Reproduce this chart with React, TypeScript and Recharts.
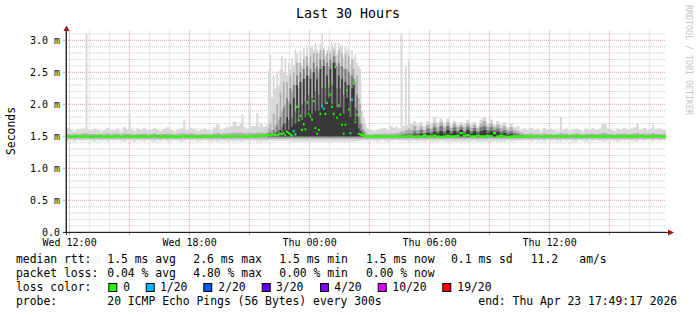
import React from 'react';
import { ComposedChart, Area, XAxis, YAxis, CartesianGrid } from 'recharts';

const FONT = '"DejaVu Sans Mono", monospace';

// time axis: minutes since Wed 00:00; graph covers last 30 hours ending Thu 17:49:17
const startT = 709.3;
const endT = 2509.3;
const timeLabelTicks = [720, 1080, 1440, 1800, 2160];
const timeLabels = ['Wed 12:00', 'Wed 18:00', 'Thu 00:00', 'Thu 06:00', 'Thu 12:00'];
const yTicks = [0, 0.5, 1, 1.5, 2, 2.5, 3];
const yTickLabels = ['0.0', '0.5 m', '1.0 m', '1.5 m', '2.0 m', '2.5 m', '3.0 m'];

// lower edges of the inner smoke bands (ms)
const innerFloors = [1.46, 1.485, 1.5];

// rows: [t, min, max, band1 top, band2 top, band3 top, median, loss(0/1)]
type Row = [number, number, number, number, number | null, number | null, number, number];

const wedAfternoon: Row[] = [
  [709, 1.43, 1.63, 1.535, null, null, 1.5, 0],
  [720, 1.44, 1.6, 1.53, null, null, 1.495, 0],
  [730, 1.42, 1.58, 1.535, null, null, 1.5, 0],
  [740, 1.44, 1.61, 1.53, null, null, 1.505, 0],
  [750, 1.43, 1.6, 1.535, null, null, 1.5, 0],
  [760, 1.44, 1.62, 1.545, null, null, 1.495, 0],
  [768, 1.43, 3.1, 1.545, null, null, 1.5, 0],
  [774, 1.44, 1.6, 1.53, null, null, 1.5, 0],
  [780, 1.43, 1.59, 1.535, null, null, 1.49, 0],
  [790, 1.42, 1.62, 1.535, null, null, 1.5, 0],
  [800, 1.44, 1.6, 1.53, null, null, 1.5, 0],
  [810, 1.43, 1.58, 1.535, null, null, 1.505, 0],
  [820, 1.44, 1.6, 1.53, null, null, 1.495, 0],
  [830, 1.42, 1.63, 1.545, null, null, 1.5, 0],
  [840, 1.44, 1.59, 1.53, null, null, 1.49, 0],
  [850, 1.43, 1.6, 1.535, null, null, 1.5, 0],
  [860, 1.44, 1.62, 1.535, null, null, 1.5, 0],
  [870, 1.43, 1.58, 1.53, null, null, 1.495, 0],
  [880, 1.42, 1.64, 1.545, null, null, 1.5, 0],
  [890, 1.44, 1.6, 1.535, null, null, 1.505, 0],
  [897, 1.43, 1.86, 1.545, null, null, 1.5, 0],
  [903, 1.44, 1.6, 1.535, null, null, 1.495, 0],
  [910, 1.42, 1.58, 1.53, null, null, 1.5, 0],
  [920, 1.44, 1.62, 1.535, null, null, 1.49, 0],
  [930, 1.43, 1.6, 1.535, null, null, 1.5, 0],
  [940, 1.42, 1.63, 1.545, null, null, 1.5, 0],
  [950, 1.44, 1.59, 1.53, null, null, 1.495, 0],
  [960, 1.43, 1.6, 1.535, null, null, 1.5, 0],
  [970, 1.42, 1.63, 1.545, null, null, 1.505, 0],
  [980, 1.44, 1.6, 1.53, null, null, 1.5, 0],
  [990, 1.43, 1.58, 1.535, null, null, 1.495, 0],
  [1000, 1.44, 1.62, 1.535, null, null, 1.5, 0],
  [1010, 1.42, 1.64, 1.545, null, null, 1.49, 0],
  [1020, 1.43, 1.6, 1.535, null, null, 1.5, 0],
  [1030, 1.44, 1.58, 1.53, null, null, 1.5, 0],
  [1040, 1.43, 1.6, 1.535, null, null, 1.495, 0],
  [1050, 1.42, 1.62, 1.545, null, null, 1.5, 0],
  [1061, 1.43, 1.75, 1.545, null, null, 1.505, 0],
  [1067, 1.44, 1.6, 1.535, null, null, 1.5, 0],
  [1080, 1.43, 1.63, 1.545, null, null, 1.495, 0],
  [1090, 1.44, 1.6, 1.535, null, null, 1.5, 0],
  [1100, 1.42, 1.58, 1.53, null, null, 1.5, 0],
  [1110, 1.43, 1.6, 1.535, null, null, 1.49, 0],
  [1120, 1.44, 1.62, 1.535, null, null, 1.5, 0],
  [1130, 1.43, 1.6, 1.535, null, null, 1.5, 0],
  [1140, 1.42, 1.58, 1.53, null, null, 1.495, 0],
  [1150, 1.43, 1.64, 1.545, null, null, 1.5, 0],
  [1160, 1.42, 1.69, 1.55, null, null, 1.505, 0],
  [1170, 1.44, 1.6, 1.535, null, null, 1.5, 0],
  [1180, 1.43, 1.62, 1.545, null, null, 1.495, 0],
  [1190, 1.42, 1.64, 1.545, null, null, 1.5, 0],
  [1200, 1.43, 1.66, 1.55, null, null, 1.5, 0],
  [1210, 1.42, 1.73, 1.56, null, null, 1.505, 0],
  [1220, 1.43, 1.66, 1.55, null, null, 1.5, 0],
  [1230, 1.42, 1.7, 1.56, null, null, 1.5, 0],
  [1236, 1.42, 1.84, 1.56, null, null, 1.505, 0],
  [1242, 1.43, 1.64, 1.545, null, null, 1.5, 0],
  [1250, 1.43, 1.62, 1.545, null, null, 1.495, 0],
  [1257, 1.42, 2.04, 1.56, null, null, 1.5, 0],
  [1263, 1.43, 1.66, 1.55, null, null, 1.505, 0],
  [1270, 1.43, 1.66, 1.55, null, null, 1.5, 0],
  [1280, 1.42, 1.86, 1.56, null, null, 1.51, 0],
  [1286, 1.43, 1.65, 1.55, null, null, 1.5, 0],
  [1290, 1.42, 1.71, 1.56, null, null, 1.505, 0],
  [1300, 1.43, 1.65, 1.55, null, null, 1.51, 0],
  [1310, 1.42, 1.68, 1.56, null, null, 1.52, 0],
];

const nightStorm: Row[] = [
  [1315, 1.44, 2.53, 1.62, 1.55, null, 1.52, 0],
  [1320, 1.43, 2.77, 1.7, 1.56, null, 1.51, 0],
  [1325, 1.44, 2.1, 1.6, 1.54, null, 1.53, 0],
  [1330, 1.43, 2.45, 1.85, 1.6, null, 1.52, 0],
  [1335, 1.43, 2.25, 1.65, 1.56, null, 1.53, 0],
  [1340, 1.43, 2.5, 2.0, 1.68, 1.56, 1.52, 0],
  [1345, 1.43, 2.3, 1.75, 1.6, null, 1.53, 0],
  [1350, 1.43, 2.55, 2.2, 1.8, 1.6, 1.54, 0],
  [1355, 1.43, 2.75, 1.9, 1.65, 1.56, 1.53, 0],
  [1360, 1.43, 2.5, 2.35, 1.95, 1.7, 1.55, 0],
  [1365, 1.43, 2.72, 2.0, 1.7, 1.58, 1.52, 0],
  [1370, 1.43, 2.45, 2.35, 2.1, 1.8, 1.57, 0],
  [1375, 1.43, 2.65, 2.05, 1.75, 1.6, 1.55, 0],
  [1380, 1.43, 2.55, 2.45, 2.25, 2.0, 1.53, 0],
  [1385, 1.42, 2.72, 2.2, 1.8, 1.65, 1.51, 0],
  [1390, 1.42, 2.6, 2.5, 2.3, 2.1, 1.58, 1],
  [1395, 1.42, 2.85, 2.3, 1.9, 1.7, 1.53, 1],
  [1400, 1.42, 2.8, 2.65, 2.45, 2.3, 1.96, 0],
  [1405, 1.42, 2.65, 2.25, 1.95, 1.75, 1.75, 0],
  [1410, 1.42, 2.85, 2.65, 2.5, 2.35, 1.82, 0],
  [1415, 1.42, 2.6, 2.35, 2.0, 1.75, 1.6, 0],
  [1420, 1.42, 2.88, 2.7, 2.55, 2.4, 1.69, 0],
  [1425, 1.42, 2.75, 2.4, 2.05, 1.8, 1.61, 0],
  [1430, 1.42, 2.9, 2.75, 2.6, 2.45, 2.03, 0],
  [1435, 1.42, 2.65, 2.45, 2.15, 1.9, 1.85, 0],
  [1440, 1.42, 2.88, 2.75, 2.55, 2.4, 1.81, 0],
  [1445, 1.42, 2.92, 2.5, 2.1, 1.85, 1.76, 0],
  [1450, 1.42, 2.85, 2.8, 2.65, 2.5, 2.05, 0],
  [1455, 1.42, 2.95, 2.55, 2.2, 1.9, 1.63, 0],
  [1460, 1.42, 2.86, 2.8, 2.6, 2.4, 1.54, 0],
  [1465, 1.42, 2.8, 2.5, 2.15, 1.9, 1.6, 0],
  [1470, 1.42, 2.95, 2.85, 2.7, 2.55, 1.85, 0],
  [1475, 1.42, 3.1, 2.6, 2.25, 1.95, 1.97, 1],
  [1480, 1.42, 2.88, 2.85, 2.7, 2.6, 1.93, 1],
  [1485, 1.42, 2.75, 2.6, 2.25, 2.0, 1.85, 0],
  [1490, 1.42, 2.85, 2.8, 2.65, 2.45, 2.02, 0],
  [1495, 1.42, 2.92, 2.6, 2.3, 2.1, 2.28, 0],
  [1500, 1.42, 2.84, 2.8, 2.7, 2.55, 2.15, 0],
  [1505, 1.42, 2.95, 2.65, 2.3, 2.0, 1.96, 0],
  [1510, 1.42, 2.9, 2.85, 2.75, 2.65, 1.85, 0],
  [1515, 1.42, 2.96, 2.75, 2.65, 2.6, 2.58, 0],
  [1520, 1.42, 2.78, 2.6, 2.25, 1.95, 1.79, 0],
  [1525, 1.42, 2.96, 2.85, 2.65, 2.45, 1.98, 0],
  [1530, 1.42, 2.9, 2.6, 2.25, 1.95, 1.84, 0],
  [1535, 1.42, 2.93, 2.8, 2.6, 2.4, 1.68, 0],
  [1540, 1.42, 2.72, 2.55, 2.15, 1.85, 1.54, 0],
  [1545, 1.42, 2.9, 2.78, 2.55, 2.35, 1.68, 0],
  [1550, 1.42, 2.84, 2.55, 2.3, 2.1, 2.22, 0],
  [1555, 1.42, 2.88, 2.75, 2.5, 2.3, 1.92, 0],
  [1560, 1.42, 2.62, 2.45, 2.05, 1.8, 1.55, 1],
  [1565, 1.42, 2.85, 2.7, 2.45, 2.25, 2.07, 1],
  [1570, 1.42, 2.72, 2.55, 2.4, 2.3, 2.33, 0],
  [1575, 1.42, 2.78, 2.35, 1.95, 1.75, 1.72, 0],
  [1580, 1.43, 2.65, 2.45, 2.15, 1.9, 1.84, 0],
  [1585, 1.43, 2.6, 2.1, 1.8, 1.62, 1.54, 0],
  [1590, 1.43, 2.55, 2.0, 1.7, 1.58, 1.53, 0],
  [1595, 1.43, 1.89, 1.7, 1.6, null, 1.52, 0],
  [1600, 1.43, 1.8, 1.62, 1.56, null, 1.51, 0],
  [1605, 1.44, 1.7, 1.58, null, null, 1.5, 0],
];

const afterStorm: Row[] = [
  [1610, 1.43, 1.62, 1.535, null, null, 1.5, 0],
  [1620, 1.44, 1.6, 1.53, null, null, 1.495, 0],
  [1630, 1.43, 1.58, 1.535, null, null, 1.5, 0],
  [1640, 1.42, 1.6, 1.535, null, null, 1.5, 0],
  [1650, 1.44, 1.62, 1.535, null, null, 1.495, 0],
  [1660, 1.43, 1.63, 1.545, null, null, 1.5, 0],
  [1670, 1.42, 1.6, 1.535, null, null, 1.5, 0],
  [1680, 1.43, 1.66, 1.545, null, null, 1.495, 0],
  [1690, 1.44, 1.63, 1.535, null, null, 1.5, 0],
];

const thuMorning: Row[] = [
  [1695, 1.44, 1.65, 1.55, null, null, 1.5, 0],
  [1705, 1.43, 1.62, 1.56, 1.52, null, 1.5, 0],
  [1713, 1.43, 3.1, 1.58, 1.53, null, 1.5, 0],
  [1719, 1.43, 1.66, 1.57, 1.53, null, 1.49, 0],
  [1726, 1.43, 2.6, 1.6, 1.54, null, 1.5, 0],
  [1731, 1.43, 1.68, 1.6, 1.54, null, 1.5, 0],
  [1735, 1.42, 2.68, 1.62, 1.55, null, 1.51, 0],
  [1741, 1.43, 1.7, 1.6, 1.54, null, 1.5, 0],
  [1750, 1.43, 1.74, 1.66, 1.58, 1.53, 1.5, 0],
  [1760, 1.42, 1.68, 1.6, 1.55, null, 1.49, 0],
  [1770, 1.43, 1.72, 1.65, 1.6, 1.54, 1.5, 0],
  [1780, 1.42, 1.66, 1.6, 1.55, 1.52, 1.51, 0],
  [1790, 1.43, 1.74, 1.68, 1.62, 1.55, 1.5, 0],
  [1800, 1.42, 1.7, 1.62, 1.57, 1.53, 1.5, 0],
  [1810, 1.42, 1.8, 1.7, 1.64, 1.57, 1.51, 0],
  [1820, 1.42, 1.72, 1.64, 1.58, 1.54, 1.5, 0],
  [1830, 1.43, 1.78, 1.72, 1.66, 1.58, 1.49, 0],
  [1840, 1.42, 1.7, 1.64, 1.58, 1.54, 1.5, 0],
  [1850, 1.42, 1.78, 1.72, 1.66, 1.6, 1.51, 0],
  [1860, 1.42, 1.68, 1.63, 1.58, 1.54, 1.5, 0],
  [1870, 1.42, 1.74, 1.7, 1.64, 1.58, 1.5, 0],
  [1880, 1.42, 1.68, 1.64, 1.59, 1.55, 1.51, 0],
  [1890, 1.42, 1.72, 1.68, 1.64, 1.6, 1.55, 0],
  [1900, 1.42, 1.7, 1.64, 1.58, 1.54, 1.51, 0],
  [1910, 1.42, 1.76, 1.7, 1.65, 1.6, 1.52, 0],
  [1920, 1.42, 1.68, 1.63, 1.58, 1.54, 1.5, 0],
  [1930, 1.43, 1.72, 1.68, 1.63, 1.58, 1.5, 0],
  [1940, 1.42, 1.66, 1.62, 1.57, 1.54, 1.51, 0],
  [1950, 1.42, 1.76, 1.7, 1.64, 1.58, 1.5, 0],
  [1960, 1.42, 1.8, 1.74, 1.66, 1.6, 1.5, 0],
  [1970, 1.42, 1.7, 1.65, 1.6, 1.55, 1.51, 0],
  [1980, 1.42, 1.76, 1.7, 1.64, 1.58, 1.5, 0],
  [1990, 1.42, 1.68, 1.64, 1.6, 1.56, 1.55, 0],
  [2000, 1.42, 1.74, 1.68, 1.62, 1.57, 1.5, 0],
  [2010, 1.42, 1.68, 1.63, 1.58, 1.54, 1.51, 0],
  [2020, 1.42, 1.72, 1.66, 1.6, 1.55, 1.5, 0],
  [2030, 1.43, 1.64, 1.6, 1.56, 1.52, 1.49, 0],
  [2040, 1.42, 1.7, 1.64, 1.58, 1.54, 1.5, 0],
  [2050, 1.43, 1.64, 1.6, 1.55, null, 1.5, 0],
  [2060, 1.43, 1.66, 1.58, 1.54, null, 1.5, 0],
  [2070, 1.43, 1.6, 1.56, 1.52, null, 1.5, 0],
];

const thuAfternoon: Row[] = [
  [2080, 1.43, 1.62, 1.535, null, null, 1.5, 0],
  [2090, 1.44, 1.6, 1.535, null, null, 1.495, 0],
  [2100, 1.42, 1.63, 1.545, null, null, 1.5, 0],
  [2110, 1.44, 1.6, 1.535, null, null, 1.5, 0],
  [2120, 1.43, 1.62, 1.535, null, null, 1.505, 0],
  [2130, 1.44, 1.58, 1.53, null, null, 1.5, 0],
  [2140, 1.42, 1.63, 1.545, null, null, 1.495, 0],
  [2150, 1.44, 1.6, 1.535, null, null, 1.5, 0],
  [2160, 1.43, 1.62, 1.535, null, null, 1.5, 0],
  [2170, 1.44, 1.6, 1.53, null, null, 1.505, 0],
  [2180, 1.43, 1.58, 1.535, null, null, 1.5, 0],
  [2191, 1.42, 1.8, 1.55, null, null, 1.5, 0],
  [2197, 1.44, 1.6, 1.535, null, null, 1.495, 0],
  [2205, 1.43, 1.62, 1.535, null, null, 1.5, 0],
  [2215, 1.44, 1.58, 1.53, null, null, 1.5, 0],
  [2225, 1.43, 1.6, 1.535, null, null, 1.505, 0],
  [2235, 1.42, 1.62, 1.545, null, null, 1.5, 0],
  [2245, 1.44, 1.6, 1.535, null, null, 1.495, 0],
  [2255, 1.43, 1.58, 1.53, null, null, 1.5, 0],
  [2265, 1.42, 1.62, 1.535, null, null, 1.5, 0],
  [2275, 1.44, 1.6, 1.535, null, null, 1.505, 0],
  [2285, 1.43, 1.63, 1.545, null, null, 1.5, 0],
  [2295, 1.44, 1.6, 1.535, null, null, 1.495, 0],
  [2305, 1.43, 1.62, 1.535, null, null, 1.5, 0],
  [2316, 1.42, 1.7, 1.55, null, null, 1.5, 0],
  [2331, 1.43, 1.62, 1.535, null, null, 1.505, 0],
  [2340, 1.44, 1.6, 1.535, null, null, 1.5, 0],
  [2350, 1.43, 1.58, 1.53, null, null, 1.495, 0],
  [2360, 1.42, 1.62, 1.545, null, null, 1.5, 0],
  [2370, 1.44, 1.6, 1.535, null, null, 1.5, 0],
  [2380, 1.43, 1.63, 1.545, null, null, 1.505, 0],
  [2390, 1.44, 1.6, 1.535, null, null, 1.5, 0],
  [2400, 1.43, 1.62, 1.535, null, null, 1.495, 0],
  [2410, 1.42, 1.64, 1.545, null, null, 1.5, 0],
  [2420, 1.42, 1.7, 1.55, null, null, 1.5, 0],
  [2428, 1.44, 1.6, 1.535, null, null, 1.505, 0],
  [2440, 1.43, 1.63, 1.545, null, null, 1.5, 0],
  [2450, 1.44, 1.6, 1.535, null, null, 1.495, 0],
  [2460, 1.43, 1.62, 1.535, null, null, 1.5, 0],
  [2468, 1.42, 1.68, 1.55, null, null, 1.5, 0],
  [2474, 1.44, 1.6, 1.535, null, null, 1.505, 0],
  [2485, 1.43, 1.62, 1.535, null, null, 1.5, 0],
  [2495, 1.44, 1.6, 1.535, null, null, 1.495, 0],
  [2509.3, 1.44, 1.6, 1.535, null, null, 1.495, 0],
];

// legend texts
const rttStats = ['1.5 ms avg', '2.6 ms max', '1.5 ms min', '1.5 ms now', '0.1 ms sd', '11.2', 'am/s'];
const lossStats = ['0.04 % avg', '4.80 % max', '0.00 % min', '0.00 % now'];
const lossLabels = ['0', '1/20', '2/20', '3/20', '4/20', '10/20', '19/20'];
const lossColors = ['#26ff00', '#00b8ff', '#0059ff', '#5e00ff', '#7e00ff', '#dd00ff', '#ff0000'];

const MED_HALF = 0.017;

const rows: Row[] = [...wedAfternoon, ...nightStorm, ...afterStorm, ...thuMorning, ...thuAfternoon];
const table = rows.map(([t, mn, mx, h1, h2, h3, md, loss]) => ({
  t,
  b0: [mn, mx],
  b1: [innerFloors[0], h1],
  b2: h2 == null ? [md, md] : [innerFloors[1], h2],
  b3: h3 == null ? [md, md] : [innerFloors[2], h3],
  med: [md - MED_HALF, md + MED_HALF],
  lossMed: loss > 0 ? [md - MED_HALF, md + MED_HALF] : [md, md],
}));

const hourLines = Array.from({ length: 30 }, (_, i) => 720 + 60 * i).filter((t) => t < endT);
const majorV = hourLines.filter((t) => (t - 720) % 180 === 0);
const minorV = hourLines.filter((t) => (t - 720) % 180 !== 0);
const tenths = Array.from({ length: 31 }, (_, i) => (i + 1) / 10);
const majorH = [0.5, 1, 1.5, 2, 2.5, 3];
const minorH = tenths.filter((v) => Math.round(v * 10) % 5 !== 0);

const xLabel = (v: number) => {
  const i = timeLabelTicks.indexOf(v);
  return i >= 0 ? timeLabels[i] : '';
};
const yLabel = (v: number) => {
  const i = yTicks.indexOf(v);
  return i >= 0 ? yTickLabels[i] : '';
};

const XTick = (props: any) => {
  const { x, y, payload } = props;
  return (
    <text x={x} y={y} dy="0.71em" textAnchor="middle" style={{ fontFamily: FONT, fontSize: 10 }} fill="#000">
      {xLabel(payload.value)}
    </text>
  );
};
const YTick = (props: any) => {
  const { x, y, payload } = props;
  return (
    <text x={x} y={y} dy="0.355em" textAnchor="end" style={{ fontFamily: FONT, fontSize: 10 }} fill="#000">
      {yLabel(payload.value)}
    </text>
  );
};

const areaCommon = {
  type: 'stepAfter' as const,
  stroke: 'none',
  fillOpacity: 1,
  isAnimationActive: false,
  dot: false,
  activeDot: false,
};

const legendRowX = [107.3, 193.3, 279.3, 366, 451, 530.7, 579.3];
const boxX = [108.3, 145.7, 203.3, 261.7, 320, 377.7, 442.3];
const boxTextX = [123.3, 160, 218.3, 276, 334.3, 392.3, 457.3];

export default function App() {
  const lf = { fontFamily: FONT, fontSize: 11.4, fill: '#000' };
  return (
    <div style={{ position: 'absolute', left: 0, top: 0, width: 697, height: 315, background: '#fff' }}>
      <ComposedChart
        width={697}
        height={315}
        data={table}
        margin={{ top: 30.7, right: 31, bottom: 81.7, left: 65 }}
      >
        <CartesianGrid
          stroke="#cfcfcf"
          strokeDasharray="1 1"
          verticalValues={minorV}
          horizontalValues={minorH}
        />
        <CartesianGrid
          stroke="#dc9a9a"
          strokeDasharray="1 1"
          verticalValues={majorV}
          horizontalValues={majorH}
        />
        <XAxis
          dataKey="t"
          type="number"
          domain={[startT, endT]}
          allowDataOverflow
          ticks={majorV}
          interval={0}
          height={1}
          tickSize={3}
          tickMargin={4}
          axisLine={{ stroke: '#222' }}
          tickLine={{ stroke: '#dc9a9a' }}
          tick={<XTick />}
        />
        <YAxis
          type="number"
          domain={[0, 3.15]}
          allowDataOverflow
          ticks={yTicks}
          interval={0}
          width={1}
          tickSize={3}
          tickMargin={3}
          axisLine={{ stroke: '#333' }}
          tickLine={{ stroke: '#dc9a9a' }}
          tick={<YTick />}
        />
        <Area {...areaCommon} dataKey="b0" fill="#d8d8d8" />
        <Area {...areaCommon} dataKey="b1" fill="#b0b0b0" />
        <Area {...areaCommon} dataKey="b2" fill="#7a7a7a" />
        <Area {...areaCommon} dataKey="b3" fill="#383838" />
        <Area {...areaCommon} dataKey="med" fill="#26ff00" />
        <Area {...areaCommon} dataKey="lossMed" fill="#00b8ff" />
      </ComposedChart>
      <svg
        width={697}
        height={315}
        style={{ position: 'absolute', left: 0, top: 0, pointerEvents: 'none' }}
      >
        <text x={348} y={18} textAnchor="middle" style={{ fontFamily: FONT, fontSize: 13.3 }} fill="#000">
          Last 30 Hours
        </text>
        <text
          x={0}
          y={0}
          transform="translate(14.5 131) rotate(-90)"
          textAnchor="middle"
          style={{ fontFamily: FONT, fontSize: 11.4 }}
          fill="#000"
        >
          Seconds
        </text>
        <text
          x={0}
          y={0}
          transform="translate(685.5 60) rotate(90)"
          textAnchor="middle"
          style={{ fontFamily: FONT, fontSize: 8.3 }}
          fill="#c4c4c4"
        >
          RRDTOOL / TOBI OETIKER
        </text>
        <line x1={63} y1={232.5} x2={669} y2={232.5} stroke="#222" strokeWidth={1} />
        <line x1={66.5} y1={235} x2={66.5} y2={30} stroke="#333" strokeWidth={1} />
        <polygon points="668,229.5 674,232.5 668,235.5" fill="#9b1010" />
        <polygon points="63.5,31 66.5,25.5 69.5,31" fill="#9b1010" />
        <text x={16} y={263.3} style={lf}>median rtt:</text>
        {rttStats.map((s, i) => (
          <text key={'r' + i} x={legendRowX[i]} y={263.3} style={lf}>{s}</text>
        ))}
        <text x={16} y={277.3} style={lf}>packet loss:</text>
        {lossStats.map((s, i) => (
          <text key={'l' + i} x={legendRowX[i]} y={277.3} style={lf}>{s}</text>
        ))}
        <text x={16} y={291.2} style={lf}>loss color:</text>
        {lossLabels.map((s, i) => (
          <g key={'c' + i}>
            <rect x={boxX[i] + 0.5} y={283.5} width={8} height={8} fill={lossColors[i]} stroke="#000" strokeWidth={1} />
            <text x={boxTextX[i]} y={291.2} style={lf}>{s}</text>
          </g>
        ))}
        <text x={16} y={305} style={lf}>probe:</text>
        <text x={107.3} y={305} style={lf}>20 ICMP Echo Pings (56 Bytes) every 300s</text>
        <text x={478.3} y={305} style={lf}>end: Thu Apr 23 17:49:17 2026</text>
      </svg>
    </div>
  );
}
